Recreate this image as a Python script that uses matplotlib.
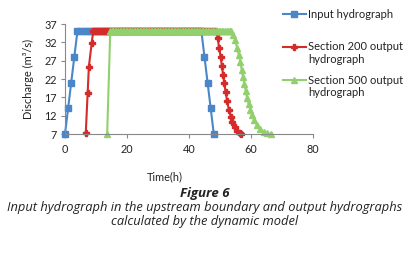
import numpy as np
import matplotlib
matplotlib.use("Agg")
import matplotlib.pyplot as plt
from matplotlib.lines import Line2D

plt.rcParams['font.family'] = ['Lato', 'DejaVu Sans']

# Input hydrograph (hourly)
t_in = [0, 1, 2, 3] + list(range(4, 45)) + [45, 46, 47, 48]
q_in = [7, 14, 21, 28] + [35] * 41 + [28, 21, 14, 7]

# Section 200 output hydrograph
t_200_rise = [6.7, 7.3, 7.7, 8.6]
q_200_rise = [7.2, 18.1, 25.4, 31.7]
t_200_flat = list(np.arange(9.1, 49.1, 0.5))
t_200_fall = [49.3, 49.7, 50.2, 50.6, 51.0, 51.4, 51.8, 52.3, 52.9, 53.5,
              54.0, 54.7, 55.5, 56.3, 56.8]
q_200_fall = [33.1, 30.4, 28.1, 25.6, 23.1, 20.8, 18.5, 16.0, 13.5, 11.7,
              10.2, 9.0, 7.8, 7.2, 7.0]
t_200 = t_200_rise + t_200_flat + t_200_fall
q_200 = q_200_rise + [35] * len(t_200_flat) + q_200_fall

# Section 500 output hydrograph
t_500_rise = [13.6]
q_500_rise = [7.0]
t_500_flat = list(np.arange(14.6, 53.7, 0.5))
t_500_fall = [54.2, 54.9, 55.5, 56.1, 56.6, 57.0, 57.4, 57.9, 58.3, 58.7,
              59.3, 59.8, 60.3, 61.1, 61.9, 62.9, 64.1, 65.2, 66.5]
q_500_fall = [34.0, 32.6, 30.5, 28.5, 26.6, 24.5, 22.6, 20.6, 18.7, 16.9,
              15.1, 13.5, 12.2, 10.8, 9.5, 8.4, 7.6, 7.2, 7.1]
t_500 = t_500_rise + t_500_flat + t_500_fall
q_500 = q_500_rise + [35] * len(t_500_flat) + q_500_fall

labels = ["Input hydrograph", "Section 200 output\nhydrograph",
          "Section 500 output\nhydrograph"]
colors = ["#4A86C8", "#D42B2B", "#92D06E"]
markers = ["s", "P", "^"]
msizes = [3.8, 4, 4]

fig = plt.figure(figsize=(4.10, 2.57), dpi=100)
ax = fig.add_axes([65 / 410, 1 - 134 / 257, 248 / 410, 110 / 257])

series = [(t_in, q_in), (t_200, q_200), (t_500, q_500)]
for (t, q), c, m, ms in zip(series, colors, markers, msizes):
    ax.plot(t, q, color=c, marker=m, markersize=ms, lw=1.5, clip_on=False)

ax.set_xlim(0, 80)
ax.set_ylim(7, 37)
ax.set_xticks([0, 20, 40, 60, 80])
ax.set_yticks([7, 12, 17, 22, 27, 32, 37])
for s in ["top", "right"]:
    ax.spines[s].set_visible(False)
for s in ["left", "bottom"]:
    ax.spines[s].set_color("#888888")
    ax.spines[s].set_linewidth(0.8)
ax.tick_params(axis="both", labelsize=7.8, color="#888888", length=3,
               width=0.8, labelcolor="#222222")
ax.tick_params(axis="x", pad=4)
ax.tick_params(axis="y", pad=3)
ax.set_ylabel("Discharge (m³/s)", fontsize=8, color="#222222", labelpad=7)

fig.text(165 / 410, 1 - 177 / 257, "Time(h)", fontsize=7.8, ha="center",
         va="center", color="#222222")

# legend drawn beside the plot
leg_y = [14, 47, 80]
for lab, c, m, ms, y in zip(labels, colors, markers, msizes, leg_y):
    yf = 1 - y / 257
    fig.add_artist(Line2D([283 / 410, 294.5 / 410, 306 / 410], [yf, yf, yf],
                          transform=fig.transFigure, color=c, lw=1.5,
                          marker=m, markersize=ms, markevery=[1]))
    fig.text(308 / 410, yf + 5.5 / 257, lab, fontsize=8, ha="left", va="top",
             color="#222222", linespacing=1.2)

fig.text(205 / 410, 1 - 193 / 257, "Figure 6", fontsize=9.5, ha="center",
         va="center", style="italic", weight="bold", family="Open Sans",
         color="#222222")
fig.text(205 / 410, 1 - 214.5 / 257,
         "Input hydrograph in the upstream boundary and output hydrographs\n"
         "calculated by the dynamic model",
         fontsize=9.3, ha="center", va="center", style="italic",
         family="Open Sans", color="#222222", linespacing=1.05)

fig.savefig("out.png", dpi=100)
